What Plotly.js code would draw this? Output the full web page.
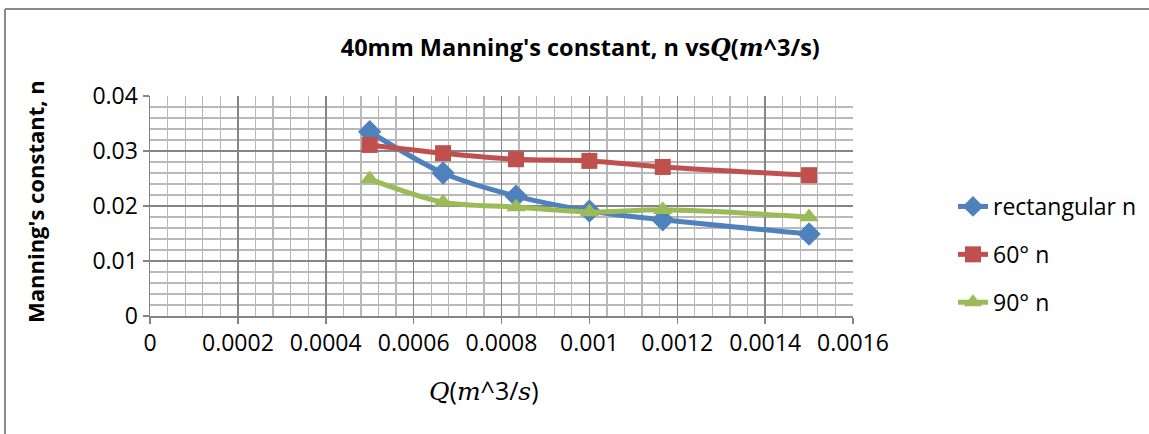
<!DOCTYPE html>
<html>
<head>
<meta charset="utf-8">
<script src="https://cdn.plot.ly/plotly-3.0.1.min.js"></script>
<style>
  html, body { margin: 0; padding: 0; background: #ffffff; }
  #chart { width: 1149px; height: 434px; }
</style>
</head>
<body>
<div id="chart"></div>
<script>
// Flow rate Q (m^3/s)
const flowQ = [0.0005, 0.000667, 0.000833, 0.001, 0.001167, 0.0015];
// Manning's constant n for each notch type
const rectangularN = [0.0335, 0.0260, 0.0218, 0.0191, 0.0175, 0.0149];
const sixtyDegN    = [0.0311, 0.0296, 0.0285, 0.0282, 0.0271, 0.0256];
const ninetyDegN   = [0.0249, 0.0207, 0.0198, 0.0189, 0.0193, 0.0180];
const seriesNames  = ["rectangular n", "60° n", "90° n"];
// Axis ticks
const xTickVals = [0, 0.0002, 0.0004, 0.0006, 0.0008, 0.001, 0.0012, 0.0014, 0.0016];
const xTickText = ["0", "0.0002", "0.0004", "0.0006", "0.0008", "0.001", "0.0012", "0.0014", "0.0016"];
const yTickVals = [0, 0.01, 0.02, 0.03, 0.04];
const yTickText = ["0", "0.01", "0.02", "0.03", "0.04"];

const FONT = "Open Sans, Lato, Liberation Sans, sans-serif";
const MATH = "DejaVu Serif, Liberation Serif, serif";

function mk(y, name, color, symbol, size, group) {
  return {
    x: flowQ, y: y, name: name, type: "scatter", mode: "lines+markers",
    legendgroup: group,
    line: { color: color, width: 5, shape: "spline", smoothing: 0.9 },
    marker: { color: color, symbol: symbol, size: size, line: { width: 0 } }
  };
}

const data = [
  mk(rectangularN, seriesNames[0], "#4F81BD", "diamond", 18, "a"),
  mk(sixtyDegN,    seriesNames[1], "#C0504D", "square", 16, "b"),
  mk(ninetyDegN,   seriesNames[2], "#9BBB59", "triangle-up", 17, "c")
];

const L = 150, R = 296, T = 96, B = 118;
const PW = 1149 - L - R, PH = 434 - T - B;
const px = v => (v - L) / PW;
const py = v => (434 - B - v) / PH;

const layout = {
  width: 1149, height: 434,
  margin: { l: L, r: R, t: T, b: B, pad: 0, autoexpand: false },
  paper_bgcolor: "#ffffff", plot_bgcolor: "#ffffff",
  font: { family: FONT, size: 23, color: "#000000" },
  title: {
    text: "<b>40mm Manning's constant, n vs<span style=\"font-family:" + MATH + "\"><i>Q</i></span>(<span style=\"font-family:" + MATH + "\"><i>m</i></span>^3/s)</b>",
    font: { family: FONT, size: 23.5, color: "#000000" },
    x: 0.505, xanchor: "center", y: 1 - 48 / 434, yanchor: "middle"
  },
  xaxis: {
    range: [0, 0.0016], automargin: false,
    tickmode: "array", tickvals: xTickVals, ticktext: xTickText,
    showgrid: true, gridcolor: "#858585", gridwidth: 1.5,
    minor: { dtick: 0.00004, tick0: 0, showgrid: true, gridcolor: "#b9b9b9", gridwidth: 1.3, ticks: "" },
    zeroline: false,
    showline: true, linecolor: "#858585", linewidth: 1.5,
    ticks: "outside", ticklen: 6, tickcolor: "#858585", tickwidth: 1.5,
    tickfont: { family: FONT, size: 23, color: "#000000" }
  },
  yaxis: {
    range: [0, 0.04], automargin: false,
    tickmode: "array", tickvals: yTickVals, ticktext: yTickText,
    showgrid: true, gridcolor: "#858585", gridwidth: 1.5,
    minor: { dtick: 0.002, tick0: 0, showgrid: true, gridcolor: "#b9b9b9", gridwidth: 1.3, ticks: "" },
    zeroline: false,
    showline: true, linecolor: "#858585", linewidth: 1.5,
    ticks: "outside", ticklen: 6, tickcolor: "#858585", tickwidth: 1.5,
    tickfont: { family: FONT, size: 23, color: "#000000" }
  },
  annotations: [
    {
      text: "<span style=\"font-family:" + MATH + "\"><i>Q</i></span>(<span style=\"font-family:" + MATH + "\"><i>m</i></span>^3/<span style=\"font-family:" + MATH + "\"><i>s</i></span>)",
      font: { family: FONT, size: 25, color: "#000000" },
      xref: "paper", yref: "paper", x: px(484), y: py(390),
      xanchor: "center", yanchor: "middle", showarrow: false
    },
    {
      text: "<b>Manning's constant, n</b>",
      font: { family: FONT, size: 22, color: "#000000" },
      xref: "paper", yref: "paper", x: px(35), y: py(202),
      xanchor: "center", yanchor: "middle", showarrow: false, textangle: -90
    }
  ],
  showlegend: true,
  legend: {
    x: px(953), xanchor: "left", y: py(185), yanchor: "top",
    traceorder: "grouped", tracegroupgap: 15,
    font: { family: FONT, size: 23, color: "#000000" },
    bgcolor: "rgba(0,0,0,0)", borderwidth: 0, itemwidth: 30
  },
  shapes: [
    { type: "line", xref: "paper", yref: "paper", x0: px(5), x1: px(1160), y0: py(9), y1: py(9), line: { color: "#8a8a8a", width: 2 } },
    { type: "line", xref: "paper", yref: "paper", x0: px(5), x1: px(5), y0: py(9), y1: py(440), line: { color: "#8a8a8a", width: 2 } }
  ]
};

Plotly.newPlot("chart", data, layout, { staticPlot: true, displayModeBar: false });
</script>
</body>
</html>
